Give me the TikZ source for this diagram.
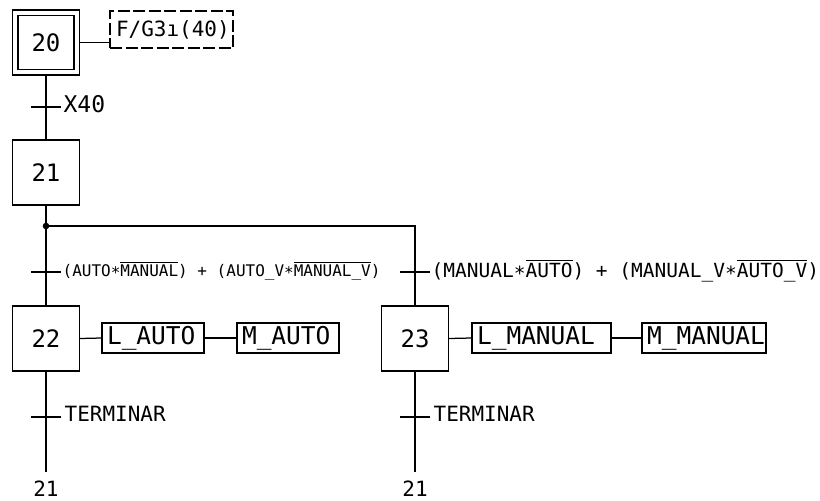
\documentclass[tikz,border=0pt]{standalone}
\usepackage{fontspec}
\newfontfamily\cad{DejaVu Sans Mono}
\newcommand\cadsize[1]{\cad\fontsize{#1}{#1}\selectfont}
\newcommand\ovl[1]{\leavevmode\vbox{\hrule height 1pt\kern1.8pt\hbox{#1}}}
\newcommand\cadstar{\raisebox{-0.3ex}{*}}
\begin{document}
\begin{tikzpicture}[x=1pt,y=-1pt,line width=1.25pt,
  stepbox/.style={draw,minimum width=67pt,minimum height=65pt,inner sep=0pt,font=\cadsize{24}},
  actbox/.style={draw,minimum height=30pt,inner xsep=5pt,inner ysep=0pt,text width=#1,align=left,font=\cadsize{24.5}},
  lbl/.style={inner sep=0pt,anchor=west,font=\cadsize{21}},
  guard/.style={inner sep=0pt,anchor=west,font=\cadsize{#1}}]
\useasboundingbox (0,0) rectangle (820,501);
% steps
\node[stepbox] (s20) at (46,42.5) {};
\node[stepbox,minimum width=56pt,minimum height=54pt] (s20i) at (46,42.5) {20};
\node[stepbox] (s21) at (46,172.5) {21};
\node[stepbox] (s22) at (46,338.5) {22};
\node[stepbox] (s23) at (415,338.5) {23};
% actions
\node[draw,dashed,dash pattern=on 12pt off 3.5pt,minimum height=37pt,inner xsep=6pt,inner ysep=0pt,text width=111pt,align=left,font=\cadsize{21}] (fg) at (171.5,29.5) {F/G3ı(40)};
\node[actbox=92pt] (la) at (153,338) {L\_AUTO};
\node[actbox=92pt] (ma) at (288,338) {M\_AUTO};
\node[actbox=129pt] (lm) at (541.5,338) {L\_MANUAL};
\node[actbox=114pt] (mm) at (704,338) {M\_MANUAL};
% coordinates
\coordinate (j) at (46,226);
\coordinate (t1) at (46,107);
\coordinate (t2) at (46,272);
\coordinate (t3) at (415,272);
\coordinate (t4) at (46,417);
\coordinate (t5) at (415,417);
\coordinate (e22) at (46,472);
\coordinate (e23) at (415,472);
% links
\draw (s20.south) -- (s21.north);
\draw (s21.south) -- (s22.north);
\draw (j) -| (s23.north);
\draw (s22.south) -- (e22);
\draw (s23.south) -- (e23);
\fill (j) circle (3.3pt);
\draw (s20.east) -- (s20.east -| fg.west);
\draw (s22.east) -- (la.west);
\draw (la.east) -- (ma.west);
\draw (s23.east) -- (lm.west);
\draw (lm.east) -- (mm.west);
% transitions
\foreach \t in {t1,t2,t3,t4,t5} \draw ([xshift=-15pt]\t) -- ([xshift=15pt]\t);
\node[lbl,font=\cadsize{23}] (l1) at ([xshift=17pt,yshift=3pt]t1) {X40};
\node[guard=16] (l2) at ([xshift=16pt,yshift=1pt]t2) {(AUTO\cadstar\ovl{MANUAL}) + (AUTO\_V\cadstar\ovl{MANUAL\_V})};
\node[guard=19.5] (l3) at ([xshift=16pt,yshift=1pt]t3) {(MANUAL\cadstar\ovl{AUTO}) + (MANUAL\_V\cadstar\ovl{AUTO\_V})};
\node[lbl] (l4) at ([xshift=18pt,yshift=3pt]t4) {TERMINAR};
\node[lbl] (l5) at ([xshift=18pt,yshift=3pt]t5) {TERMINAR};
\node[inner sep=0pt,font=\cadsize{21}] (b22) at (46,489) {21};
\node[inner sep=0pt,font=\cadsize{21}] (b23) at (415,489) {21};
\end{tikzpicture}
\end{document}
